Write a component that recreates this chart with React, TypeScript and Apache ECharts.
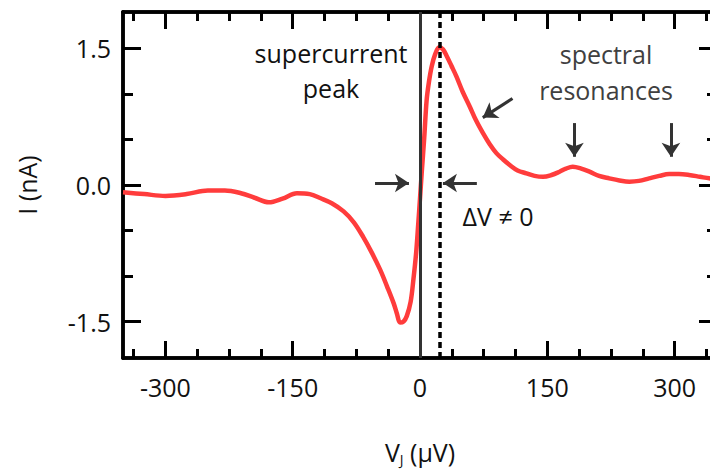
import React, { useEffect, useRef } from "react";
import * as echarts from "echarts";

// Voltage V_J (µV) and current I (nA)
const voltage = [
  -350, -325, -300, -275, -250, -230, -211, -195, -178, -162, -145, -130, -117, -104, -90, -78, -67, -57, -47, -39,
  -31, -27, -23.5, -19.5, -15.6, -11, -7.8, -4.5, -2, 0, 2, 5, 7.8, 10.5, 13.7, 18, 22.7, 27, 31.3, 37, 43, 50, 58.7,
  66, 74.4, 82, 90, 98, 105.7, 115, 125.3, 135, 145, 155, 164.5, 172, 180, 190, 199.7, 211, 223, 235, 246.7, 258,
  270, 282, 293.7, 305, 317, 330, 341, 350,
];
const current = [
  -0.08, -0.1, -0.12, -0.1, -0.06, -0.06, -0.09, -0.14, -0.19, -0.15, -0.09, -0.1, -0.146, -0.2, -0.29, -0.41,
  -0.57, -0.74, -0.93, -1.11, -1.3, -1.42, -1.51, -1.5, -1.44, -1.28, -1.04, -0.74, -0.42, -0.15, 0.13, 0.52, 0.93,
  1.13, 1.3, 1.44, 1.514, 1.49, 1.42, 1.31, 1.19, 1.03, 0.86, 0.71, 0.566, 0.45, 0.35, 0.28, 0.22, 0.16, 0.128,
  0.1, 0.09, 0.11, 0.146, 0.18, 0.2, 0.18, 0.146, 0.1, 0.073, 0.05, 0.037, 0.045, 0.073, 0.1, 0.12, 0.12, 0.11,
  0.09, 0.073, 0.065,
];

const xMajorTicks = [-300, -150, 0, 150, 300];
const xMinorTicks = [-337.5, -262.5, -225, -187.5, -112.5, -75, -37.5, 37.5, 75, 112.5, 187.5, 225, 262.5, 337.5];
const yMajorTicks = [-1.5, 0, 1.5];
const yMinorTicks = [-1, -0.5, 0.5, 1];

const zeroLineV = 0;
const peakLineV = 22.7;

// Annotation arrows: [x1, y1, x2, y2] in data units (arrow head at second point)
const arrows = [
  [-53, 0.022, -13, 0.022],
  [67, 0.022, 27, 0.022],
  [109, 0.95, 74, 0.74],
  [182, 0.68, 182, 0.31],
  [295.7, 0.68, 295.7, 0.31],
];

const FONT = "'Open Sans', 'Noto Sans', sans-serif";
const AXIS_COLOR = "#000";
const CHART_W = 740;

export default function App() {
  const ref = useRef<HTMLDivElement>(null);
  useEffect(() => {
    if (!ref.current) return;
    const chart = echarts.init(ref.current, null, { renderer: "svg" });
    const axisLine = { show: true, onZero: false, lineStyle: { color: AXIS_COLOR, width: 3.5 } };
    const label = { fontFamily: FONT, fontSize: 25, color: "#111" };
    const mkX = (position: string, ticks: number[], len: number, showLabel: boolean, name?: boolean) => ({
      type: "value",
      min: -350,
      max: 350,
      position,
      axisLine,
      splitLine: { show: false },
      axisTick: { show: true, inside: true, length: len, customValues: ticks, lineStyle: { color: AXIS_COLOR, width: 3 } },
      axisLabel: showLabel
        ? { ...label, margin: 16, customValues: ticks, formatter: (v: number) => String(v) }
        : { show: false },
      ...(name
        ? {
            name: "V{sub|J} (µV)",
            nameLocation: "middle",
            nameGap: 80,
            nameTextStyle: {
              fontFamily: FONT,
              fontSize: 25,
              color: "#111",
              rich: { sub: { fontFamily: FONT, fontSize: 14, color: "#111", verticalAlign: "bottom", padding: [14, 0, 0, 0] } },
            },
          }
        : {}),
    });
    const mkY = (position: string, ticks: number[], len: number, showLabel: boolean, name?: boolean) => ({
      type: "value",
      min: -1.9,
      max: 1.9,
      position,
      axisLine,
      splitLine: { show: false },
      axisTick: { show: true, inside: true, length: len, customValues: ticks, lineStyle: { color: AXIS_COLOR, width: 3 } },
      axisLabel: showLabel
        ? { ...label, margin: 12, customValues: ticks, formatter: (v: number) => v.toFixed(1) }
        : { show: false },
      ...(name
        ? {
            name: "I (nA)",
            nameLocation: "middle",
            nameGap: 84,
            nameTextStyle: { fontFamily: FONT, fontSize: 25, color: "#111" },
          }
        : {}),
    });

    const arrowLines = arrows.map(([x1, y1, x2, y2]) => [
      { coord: [x1, y1], symbol: "none" },
      { coord: [x2, y2], symbol: "arrow", symbolSize: [14, 14] },
    ]);

    chart.setOption({
      animation: false,
      grid: { left: 123, right: CHART_W - 717, top: 12, bottom: 112.5, containLabel: false },
      xAxis: [
        mkX("bottom", xMajorTicks, 17, true, true),
        mkX("bottom", xMinorTicks, 9, false),
        mkX("top", xMajorTicks, 17, false),
        mkX("top", xMinorTicks, 9, false),
      ],
      yAxis: [
        mkY("left", yMajorTicks, 18, true, true),
        mkY("left", yMinorTicks, 10, false),
        mkY("right", yMajorTicks, 18, false),
        mkY("right", yMinorTicks, 10, false),
      ],
      series: [
        {
          type: "line",
          name: "vlines",
          data: [],
          markLine: {
            silent: true,
            symbol: "none",
            label: { show: false },
            data: [
              { xAxis: zeroLineV, lineStyle: { color: "#333", width: 3, type: "solid" } },
              { xAxis: peakLineV, lineStyle: { color: "#000", width: 3.5, type: [6, 4] } },
            ],
          },
        },
        {
          type: "line",
          name: "I",
          data: voltage.map((v, i) => [v, current[i]]),
          smooth: 0.35,
          showSymbol: false,
          lineStyle: { color: "#ff3c3c", width: 4.5 },
          z: 3,
        },
        {
          type: "line",
          name: "arrows",
          data: [],
          markLine: {
            silent: true,
            label: { show: false },
            lineStyle: { color: "#333", width: 3, type: "solid" },
            itemStyle: { color: "#333" },
            data: arrowLines,
          },
        },
      ],
      graphic: [
        {
          type: "text",
          x: 331,
          y: 53,
          style: { text: "supercurrent", font: `25px ${FONT}`, fill: "#111", align: "center", verticalAlign: "middle" },
        },
        {
          type: "text",
          x: 331,
          y: 88,
          style: { text: "peak", font: `25px ${FONT}`, fill: "#111", align: "center", verticalAlign: "middle" },
        },
        {
          type: "text",
          x: 606,
          y: 54,
          style: { text: "spectral", font: `25px ${FONT}`, fill: "#404040", align: "center", verticalAlign: "middle" },
        },
        {
          type: "text",
          x: 606,
          y: 90,
          style: { text: "resonances", font: `25px ${FONT}`, fill: "#404040", align: "center", verticalAlign: "middle" },
        },
        {
          type: "text",
          x: 498,
          y: 216,
          style: { text: "ΔV ≠ 0", font: `25px ${FONT}`, fill: "#111", align: "center", verticalAlign: "middle" },
        },
      ],
    });
    return () => chart.dispose();
  }, []);
  return (
    <div style={{ position: "fixed", left: 0, top: 0, width: 710, height: 471, background: "#fff", overflow: "hidden" }}>
      <div ref={ref} style={{ width: CHART_W, height: 471 }} />
    </div>
  );
}
